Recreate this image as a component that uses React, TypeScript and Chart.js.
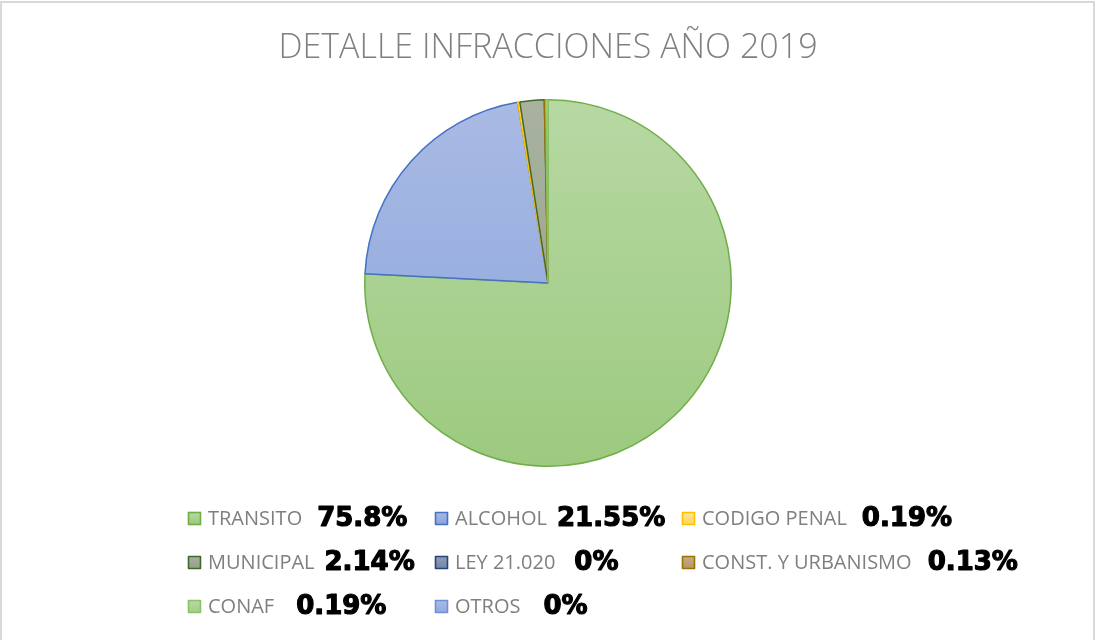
import React, { useEffect, useRef } from "react";
import { Chart, registerables } from "chart.js";

Chart.register(...registerables);

const TITLE = "DETALLE INFRACCIONES AÑO 2019";
const categories = [
  "TRANSITO",
  "ALCOHOL",
  "CODIGO PENAL",
  "MUNICIPAL",
  "LEY 21.020",
  "CONST. Y URBANISMO",
  "CONAF",
  "OTROS",
];
const shares = [75.8, 21.55, 0.19, 2.14, 0, 0.13, 0.19, 0];
const shareLabels = ["75.8%", "21.55%", "0.19%", "2.14%", "0%", "0.13%", "0.19%", "0%"];

// styling (not data)
const gradTop = ["#b7d8a3", "#a9bae4", "#ffe699", "#a8b29f", "#8e9db8", "#c8ad85", "#b9daa4", "#a9bce6"];
const gradBottom = ["#9cca7f", "#8aa5dc", "#ffd65c", "#949f89", "#7588a8", "#b69669", "#a3cf88", "#93aadf"];
const borders = ["#70ad47", "#4472c4", "#ffc000", "#43682b", "#264478", "#997300", "#8cc168", "#6f8fd6"];
const pctGaps = [15, 10, 15, 10, 19, 16, 22, 23];

const legendPlugin = {
  id: "customLegend",
  afterDraw(chart: any) {
    const ctx = chart.ctx as CanvasRenderingContext2D;
    ctx.save();
    // frame
    ctx.strokeStyle = "#d9d9d9";
    ctx.lineWidth = 2;
    ctx.beginPath();
    ctx.moveTo(1, 642);
    ctx.lineTo(1, 2);
    ctx.lineTo(1094, 2);
    ctx.lineTo(1094, 642);
    ctx.stroke();

    // title
    ctx.fillStyle = "#808080";
    ctx.font = "300 34px 'Open Sans'";
    ctx.textAlign = "center";
    ctx.textBaseline = "middle";
    ctx.fillText(TITLE, 548, 48);

    // legend
    const colX = [188, 435, 682];
    const rowY = [518, 562, 606];
    categories.forEach((name, i) => {
      const col = i % 3;
      const row = Math.floor(i / 3);
      const x = colX[col];
      const y = rowY[row];
      const g = ctx.createLinearGradient(0, y - 6, 0, y + 6);
      g.addColorStop(0, gradTop[i]);
      g.addColorStop(1, gradBottom[i]);
      ctx.fillStyle = g;
      ctx.fillRect(x + 0.5, y - 5.5, 12, 12);
      ctx.strokeStyle = borders[i];
      ctx.lineWidth = 1.6;
      ctx.strokeRect(x + 0.5, y - 5.5, 12, 12);

      ctx.textAlign = "left";
      ctx.textBaseline = "middle";
      ctx.fillStyle = "#7f7f7f";
      ctx.font = "20px 'Open Sans'";
      const tx = x + 20;
      ctx.fillText(name, tx, y + 1);
      const w = ctx.measureText(name).width;

      ctx.fillStyle = "#000000";
      ctx.strokeStyle = "#000000";
      ctx.lineWidth = 1.2;
      ctx.lineJoin = "round";
      ctx.font = "bold 26px 'DejaVu Sans'";
      ctx.fillText(shareLabels[i], tx + w + pctGaps[i], y + 1);
      ctx.strokeText(shareLabels[i], tx + w + pctGaps[i], y + 1);
    });
    ctx.restore();
  },
};

export default function App() {
  const ref = useRef<HTMLCanvasElement>(null);
  useEffect(() => {
    document.body.style.margin = "0";
    const canvas = ref.current!;
    const chart = new Chart(canvas, {
      type: "pie",
      data: {
        labels: categories,
        datasets: [
          {
            data: shares,
            backgroundColor: (c: any) => {
              const area = c.chart.chartArea;
              const i = c.dataIndex;
              if (!area) return gradBottom[i];
              const g = c.chart.ctx.createLinearGradient(0, area.top, 0, area.bottom);
              g.addColorStop(0, gradTop[i]);
              g.addColorStop(1, gradBottom[i]);
              return g;
            },
            borderColor: borders,
            borderWidth: 1.5,
            hoverOffset: 0,
          },
        ],
      },
      options: {
        responsive: false,
        animation: false,
        layout: { padding: { top: 99, bottom: 173, left: 0, right: 0 } },
        plugins: {
          legend: { display: false },
          title: { display: false },
          tooltip: { enabled: false },
        },
      },
      plugins: [legendPlugin],
    });
    return () => chart.destroy();
  }, []);
  return (
    <div style={{ width: 1096, height: 640, background: "#fff" }}>
      <canvas ref={ref} width={1096} height={640} style={{ display: "block" }} />
    </div>
  );
}
